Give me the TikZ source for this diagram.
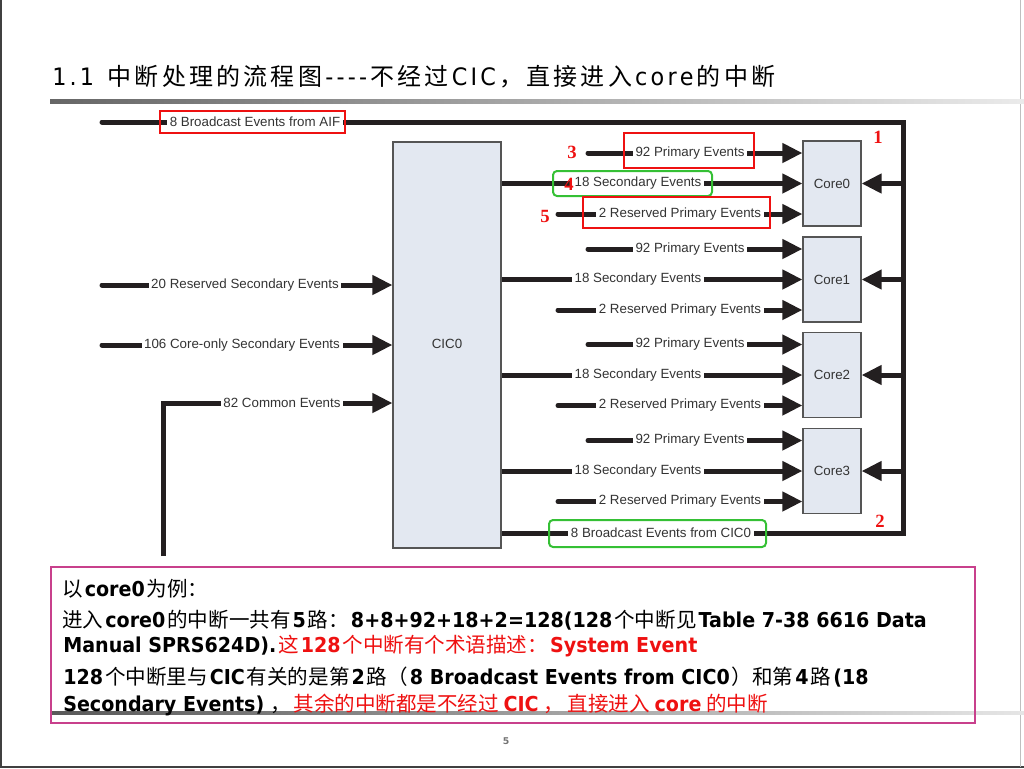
\documentclass[tikz,border=0pt]{standalone}
\usepackage{fontspec}
\usetikzlibrary{arrows.meta}
\setmainfont{DejaVu Sans}
\newfontfamily\cjk{Noto Sans CJK SC}
\newfontfamily\latf[FakeStretch=0.93]{DejaVu Sans}
\newfontfamily\arialf{Liberation Sans}
\newfontfamily\timesf{Liberation Serif}
\definecolor{lc}{HTML}{231F20}
\definecolor{boxfill}{HTML}{E3E8F1}
\definecolor{boxline}{HTML}{555555}
\definecolor{lbl}{HTML}{333333}
\definecolor{mag}{HTML}{C8408C}
\definecolor{grn}{HTML}{35C035}
\definecolor{rd}{HTML}{EE1111}
\def\spc#1{\ifx#1\relax\else#1\hspace{2.4pt}\expandafter\spc\fi}
\newcommand\Cx[1]{{\cjk #1}}
\newcommand\Lx[1]{\hspace{1.5pt}{\latf\bfseries #1}\hspace{1.5pt}}
\newcommand\Lw[1]{\hspace{3.5pt}{\latf\bfseries #1}\hspace{3.5pt}}
\newcommand\TL{\latf\fontsize{18}{20}\selectfont}
\newcommand\TC{\cjk\fontsize{18}{20}\selectfont}
\tikzset{
  bus/.style={line width=3.75pt, draw=lc, line cap=round},
  arr/.style={bus, -{Triangle[length=15pt,width=14pt]}},
  lab/.style={fill=white, inner xsep=2pt, inner ysep=1pt, text=lbl, font=\arialf\fontsize{10}{12}\selectfont},
  blk/.style={draw=boxline, fill=boxfill, line width=0.8pt, inner sep=0pt, text=lbl, font=\arialf\fontsize{10}{12}\selectfont},
  rbox/.style={draw=rd, line width=1.5pt, inner sep=0pt},
  gbox/.style={draw=grn, line width=1.5pt, inner sep=0pt, rounded corners=3pt},
  num/.style={text=rd, font=\timesf\bfseries\fontsize{14}{16}\selectfont, inner sep=0pt},
  body/.style={anchor=base west, inner sep=0pt, font=\fontsize{15.4}{18}\selectfont}
}
\begin{document}
\begin{tikzpicture}[x=0.75pt,y=-0.75pt]
\useasboundingbox (0,0) rectangle (1024,768);
% slide frame
\draw[black!75, line width=1.5pt] (1,0) -- (1,767) -- (1024,767);
\draw[black!25, line width=0.75pt] (1020,0) -- (1020,767);
% title
\node[anchor=base west, inner sep=0pt] (title) at (52,85)
 {{\TL\spc 1.1~\relax}{\TC\spc 中断处理的流程图\relax}{\TL\spc ----\relax}{\TC\spc 不经过\relax}{\TL\spc CIC\relax}{\TC\spc ，直接进入\relax}{\TL\spc core\relax}{\TC\spc 的中断\relax}};
\shade[left color=black!60, right color=black!8] (50,99) rectangle (1024,103);
% bottom rule
\shade[left color=black!65, right color=black!10] (50,711) rectangle (1024,714);

% ---- diagram ----
\coordinate (aifS) at (102,122);
\coordinate (busTop) at (903,122);
\coordinate (busBot) at (903,533);
\node[blk, minimum width=81pt, minimum height=304.5pt] (cic) at (447,345) {};
\node[blk, minimum width=43.5pt, minimum height=63.75pt] (c0) at (832,183.5) {};
\node[blk, minimum width=43.5pt, minimum height=63.75pt] (c1) at (832,279.5) {};
\node[blk, minimum width=43.5pt, minimum height=63.75pt] (c2) at (832,375) {};
\node[blk, minimum width=43.5pt, minimum height=63.75pt] (c3) at (832,471) {};

\draw[bus, line join=miter] (aifS) -- (busTop) -- (busBot) -- (busBot -| cic.east);
\foreach \n/\y in {0/183.5,1/279.5,2/375,3/471}{
  \coordinate (pp\n) at (588,{\y-30.5});
  \coordinate (rp\n) at (558,{\y+30.5});
  \draw[arr] (pp\n) -- (pp\n -| c\n.west);
  \draw[arr] (cic.east |- c\n) -- (c\n.west);
  \draw[arr] (rp\n) -- (rp\n -| c\n.west);
  \draw[arr] (busTop |- c\n) -- (c\n.east);
}
\coordinate (l1) at (102,285);
\coordinate (l2) at (102,345);
\coordinate (l3a) at (163,556);
\coordinate (l3b) at (163,403);
\draw[arr] (l1) -- (l1 -| cic.west);
\draw[arr] (l2) -- (l2 -| cic.west);
\draw[arr, line cap=butt, line join=miter] (l3a) -- (l3b) -- (l3b -| cic.west);

% boxes drawn again on top of the line ends
\node[blk, minimum width=81pt, minimum height=304.5pt] (cicb) at (cic) {};
\node[text=lbl, font=\arialf\fontsize{10}{12}\selectfont] (cicl) at (447,344) {CIC0};
\foreach \n in {0,1,2,3}{
  \node[blk, minimum width=43.5pt, minimum height=63.75pt] (cb\n) at (c\n) {Core\n};
}

% labels
\node[lab] (laif) at (255,122) {8 Broadcast Events from AIF};
\node[lab] (lcic) at (661,533) {8 Broadcast Events from CIC0};
\node[lab] (ll1) at (245,285) {20 Reserved Secondary Events};
\node[lab] (ll2) at (242,345) {106 Core-only Secondary Events};
\node[lab] (ll3) at (282,403) {82 Common Events};
\foreach \n/\y in {0/183.5,1/279.5,2/375,3/471}{
  \node[lab] (lp\n) at (690,{\y-30.5}) {92 Primary Events};
  \node[lab] (ls\n) at (638,\y) {18 Secondary Events};
  \node[lab] (lr\n) at (680,{\y+30.5}) {2 Reserved Primary Events};
}

% highlight boxes
\node[rbox, minimum width=138.75pt, minimum height=16.5pt] (hb1) at (252.5,122) {};
\node[rbox, minimum width=97.5pt, minimum height=26.25pt] (hb3) at (689,150.5) {};
\node[gbox, minimum width=119.25pt, minimum height=18.75pt] (hb4) at (632.5,183.5) {};
\node[rbox, minimum width=140.25pt, minimum height=23.25pt] (hb5) at (676.5,212.5) {};
\node[gbox, minimum width=162.75pt, minimum height=20.25pt] (hb2) at (657.5,533.5) {};

% red numbers
\node[num] (n1) at (878,137) {1};
\node[num] (n2) at (880,521) {2};
\node[num] (n3) at (572,152) {3};
\node[num] (n4) at (569,184) {4};
\node[num] (n5) at (545,216) {5};

% text box
\draw[mag, line width=0.9pt] (51,567) rectangle (975,723);
\node[body] (t1) at (62,596) {\Cx{以}\Lx{core0}\Cx{为例：}};
\node[body] (t2) at (62,627) {\Cx{进入}\Lx{core0}\Cx{的中断一共有}\Lx{5}\Cx{路：}\Lx{8+8+92+18+2=128(128}\Cx{个中断见}\Lx{Table 7-38 6616 Data}};
\node[body] (t3) at (61,652) {\Lx{Manual SPRS624D).}\color{rd}\Cx{这}\Lx{128}\Cx{个中断有个术语描述：}\Lx{System Event}};
\node[body] (t4) at (61,684) {\Lx{128}\Cx{个中断里与}\Lx{CIC}\Cx{有关的是第}\Lx{2}\Cx{路（}\Lx{8 Broadcast Events from CIC0}\Cx{）和第}\Lx{4}\Cx{路}\Lx{(18}};
\node[body] (t5) at (61,711) {\Lx{Secondary Events)}\hspace{3pt}\Cx{，}\hspace{2pt}\color{rd}\Cx{其余的中断都是不经过}\Lw{CIC}\Cx{，\hspace{3pt}直接进入}\Lw{core}\Cx{的中断}};

% page number
\node[text=black!55, font=\bfseries\fontsize{7}{8}\selectfont] (pg) at (506,741) {5};
\end{tikzpicture}
\end{document}
